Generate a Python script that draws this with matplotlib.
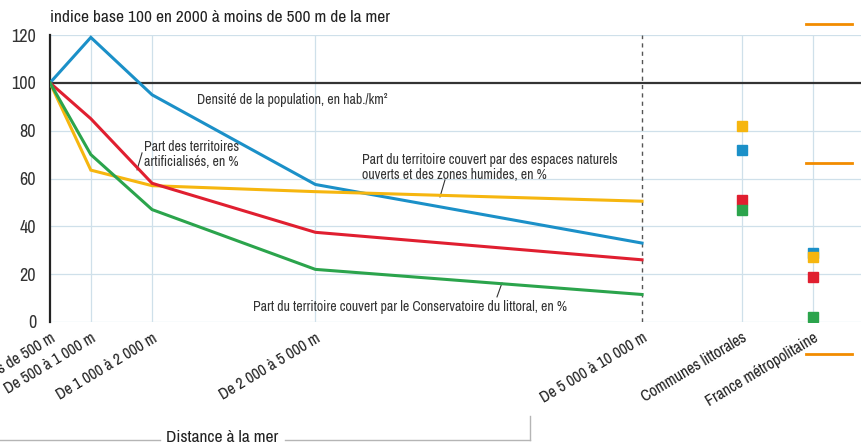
import numpy as np
import matplotlib; matplotlib.use("Agg")
import matplotlib.pyplot as plt
from matplotlib import font_manager as fm
from matplotlib.lines import Line2D

# condensed grotesque if present, close to the original typeface
names = {f.name for f in fm.fontManager.ttflist}
FONT = "Archivo Narrow" if "Archivo Narrow" in names else "Liberation Sans"
plt.rcParams["font.family"] = [FONT, "DejaVu Sans"]

# distance classes (midpoint of each band, in m) and their labels
mid_dist = [250, 750, 1500, 3500, 7500]
dist_labels = ["Moins de 500 m", "De 500 à 1 000 m", "De 1 000 à 2 000 m",
               "De 2 000 à 5 000 m", "De 5 000 à 10 000 m"]
ref_labels = ["Communes littorales", "France métropolitaine"]

densite      = [100, 119, 95, 57.5, 33]
artificiel   = [100, 85, 58, 37.5, 26]
naturels     = [100, 63.5, 57, 54.5, 50.5]
conservatoire = [100, 70, 47, 22, 11.5]

# reference values: [Communes littorales, France métropolitaine]
ref_densite = [72, 29]
ref_artificiel = [51, 19]
ref_naturels = [82, 27]
ref_conservatoire = [47, 2]

BLUE, RED, YEL, GRN = "#1b90c8", "#e01f30", "#f6b60f", "#2ba44c"
GRID = "#cfe0ea"

fig = plt.figure(figsize=(8.62, 4.47), dpi=100)
ax = fig.add_axes([50/862, 1-322/447, 1-50/862, 287/447])
ref_x = [8724, 9594]

for xv in mid_dist[1:4] + ref_x:
    ax.axvline(xv, color=GRID, lw=0.9, zorder=0)
for yv in [0, 20, 40, 60, 80, 120]:
    ax.axhline(yv, color=GRID, lw=0.9, zorder=0)
ax.axhline(100, color="#333333", lw=1.6, zorder=1)
ax.axvline(mid_dist[-1], color="#555555", lw=1.0, ls=(0, (3, 3)), zorder=1)

for vals, refs, c in [(densite, ref_densite, BLUE), (naturels, ref_naturels, YEL),
                      (artificiel, ref_artificiel, RED), (conservatoire, ref_conservatoire, GRN)]:
    ax.plot(mid_dist, vals, color=c, lw=2.2, zorder=3, solid_joinstyle="miter")
    ax.plot(ref_x, refs, ls="none", marker="s", ms=7.5, color=c, zorder=4)

ax.set_xlim(250, 10194); ax.set_ylim(0, 120)
ax.set_yticks([0, 20, 40, 60, 80, 100, 120])
ax.set_xticks(mid_dist + ref_x)
ax.set_xticklabels(dist_labels + ref_labels, rotation=31, ha="right", va="top",
                   rotation_mode="anchor", fontsize=11.5, color="#222222")
ax.tick_params(axis="y", length=0, labelsize=13, pad=10, labelcolor="#333333")
ax.tick_params(axis="x", length=0, pad=6)
for s in ["top", "right", "bottom"]:
    ax.spines[s].set_visible(False)
ax.spines["left"].set_linewidth(1.6)
ax.spines["left"].set_color("#222222")

tc = "#333333"
fs = 10
ax.text(2050, 93, "Densité de la population, en hab./km²", fontsize=fs, color=tc, va="center")
ax.text(1400, 70.1, "Part des territoires\nartificialisés, en %", fontsize=fs, color=tc,
        va="center", linespacing=1.05)
ax.plot([1377, 1316], [70.7, 63.6], color=tc, lw=0.8)
ax.text(4071, 64.6, "Part du territoire couvert par des espaces naturels\nouverts et des zones humides, en %",
        fontsize=fs, color=tc, va="center", linespacing=1.05)
ax.plot([5087, 5026], [59.4, 52.3], color=tc, lw=0.8)
ax.text(2736, 6.3, "Part du territoire couvert par le Conservatoire du littoral, en %",
        fontsize=fs, color=tc, va="center")
ax.plot([5785, 5724], [16.3, 10.5], color=tc, lw=0.8)

fig.text(50/862, 1-18/447, "indice base 100 en 2000 à moins de 500 m de la mer",
         fontsize=12.5, color="#222222", va="center")

# bottom "Distance à la mer" bracket
g = "#b5b5b5"
fig.add_artist(Line2D([0, 160/862], [1-440/447]*2, color=g, lw=1))
fig.add_artist(Line2D([285/862, 530/862], [1-440/447]*2, color=g, lw=1))
fig.add_artist(Line2D([530/862]*2, [1-440/447, 1-416/447], color=g, lw=1))
fig.text(222/862, 1-437/447, "Distance à la mer", fontsize=12.5, ha="center", va="center", color="#222222")

# orange marks on the right margin
for yp in [24, 163, 354]:
    fig.add_artist(Line2D([806/862, 852/862], [1-yp/447]*2, color="#f28c00", lw=2))

fig.savefig("out.png", dpi=100)
